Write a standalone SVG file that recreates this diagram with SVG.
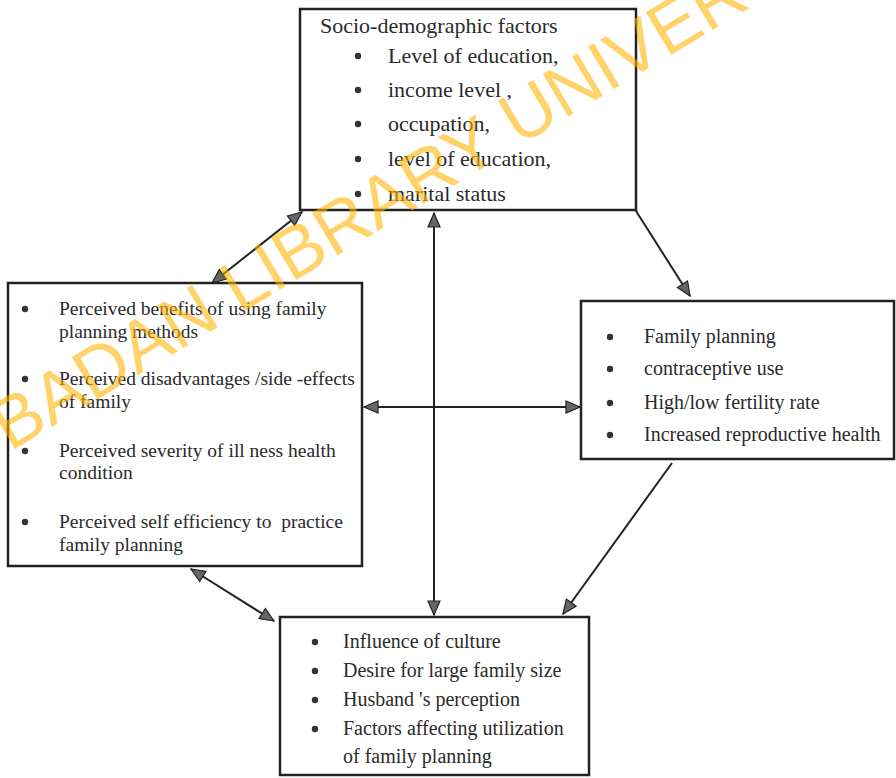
<svg xmlns="http://www.w3.org/2000/svg" width="896" height="778" viewBox="0 0 896 778">
<style>
.box{fill:none;stroke:#222;stroke-width:2.5}
.t{font-family:"Liberation Serif","Times New Roman",serif;fill:#2a2a2a}
.t22{font-size:22px}
.t20{font-size:20px}
.t19{font-size:19.5px}
.bul{fill:#333}
.con{stroke:#222;stroke-width:2;fill:none}
.wm{font-family:"Liberation Sans",Arial,sans-serif;font-size:72px;fill:#FFB300;opacity:0.58}
</style>
<defs>
<marker id="ah" markerUnits="userSpaceOnUse" markerWidth="16" markerHeight="14" viewBox="0 0 16 14" refX="15" refY="7" orient="auto-start-reverse">
<path d="M1,1 L15,7 L1,13 z" fill="#666" stroke="#222" stroke-width="1.2"/>
</marker>
</defs>
<rect width="896" height="778" fill="#fff"/>

<g id="connectors">
<line class="con" x1="212" y1="283" x2="302" y2="212" marker-start="url(#ah)" marker-end="url(#ah)"/>
<line class="con" x1="636" y1="211" x2="690" y2="296" marker-end="url(#ah)"/>
<line class="con" x1="434" y1="213" x2="434" y2="615" marker-start="url(#ah)" marker-end="url(#ah)"/>
<line class="con" x1="364" y1="407" x2="580" y2="407" marker-start="url(#ah)" marker-end="url(#ah)"/>
<line class="con" x1="672" y1="463" x2="563" y2="614" marker-end="url(#ah)"/>
<line class="con" x1="191" y1="569" x2="274" y2="621" marker-start="url(#ah)" marker-end="url(#ah)"/>
</g>

<g id="socio">
<rect class="box" x="300" y="9" width="336" height="201"/>
<text class="t t22" x="320" y="33">Socio-demographic factors</text>
<circle class="bul" cx="358" cy="56" r="3.2"/>
<circle class="bul" cx="358" cy="90" r="3.2"/>
<circle class="bul" cx="358" cy="124" r="3.2"/>
<circle class="bul" cx="358" cy="159" r="3.2"/>
<circle class="bul" cx="358" cy="194" r="3.2"/>
<text class="t t22" x="388" y="63">Level of education,</text>
<text class="t t22" x="388" y="97">income level ,</text>
<text class="t t22" x="388" y="131">occupation,</text>
<text class="t t22" x="388" y="166">level of education,</text>
<text class="t t22" x="388" y="201">marital status</text>
</g>

<g id="perceived">
<rect class="box" x="8" y="283" width="354" height="283"/>
<circle class="bul" cx="25" cy="309" r="3.2"/>
<circle class="bul" cx="25" cy="379" r="3.2"/>
<circle class="bul" cx="25" cy="451" r="3.2"/>
<circle class="bul" cx="25" cy="522" r="3.2"/>
<text class="t t19" x="59" y="315">Perceived benefits of using family</text>
<text class="t t19" x="59" y="338">planning methods</text>
<text class="t t19" x="59" y="385">Perceived disadvantages /side -effects</text>
<text class="t t19" x="59" y="408">of family</text>
<text class="t t19" x="59" y="457">Perceived severity of ill ness health</text>
<text class="t t19" x="59" y="479">condition</text>
<text class="t t19" x="59" y="528">Perceived self efficiency to&#160; practice</text>
<text class="t t19" x="59" y="551">family planning</text>
</g>

<g id="outcomes">
<rect class="box" x="581" y="301" width="313" height="158"/>
<circle class="bul" cx="610" cy="337" r="3.2"/>
<circle class="bul" cx="610" cy="369" r="3.2"/>
<circle class="bul" cx="610" cy="403" r="3.2"/>
<circle class="bul" cx="610" cy="435" r="3.2"/>
<text class="t t20" x="644" y="343">Family planning</text>
<text class="t t20" x="644" y="375">contraceptive use</text>
<text class="t t20" x="644" y="409">High/low fertility rate</text>
<text class="t t20" x="644" y="441">Increased reproductive health</text>
</g>

<g id="culture">
<rect class="box" x="280" y="617" width="309" height="158"/>
<circle class="bul" cx="315" cy="642" r="3.2"/>
<circle class="bul" cx="315" cy="671" r="3.2"/>
<circle class="bul" cx="315" cy="700" r="3.2"/>
<circle class="bul" cx="315" cy="729" r="3.2"/>
<text class="t t20" x="343" y="648">Influence of culture</text>
<text class="t t20" x="343" y="677">Desire for large family size</text>
<text class="t t20" x="343" y="706">Husband 's perception</text>
<text class="t t20" x="343" y="735">Factors affecting utilization</text>
<text class="t t20" x="343" y="763">of family planning</text>
</g>

<text class="wm" transform="translate(10,452) rotate(-31)" x="0" y="0">BADAN LIBRARY UNIVER</text>
</svg>
